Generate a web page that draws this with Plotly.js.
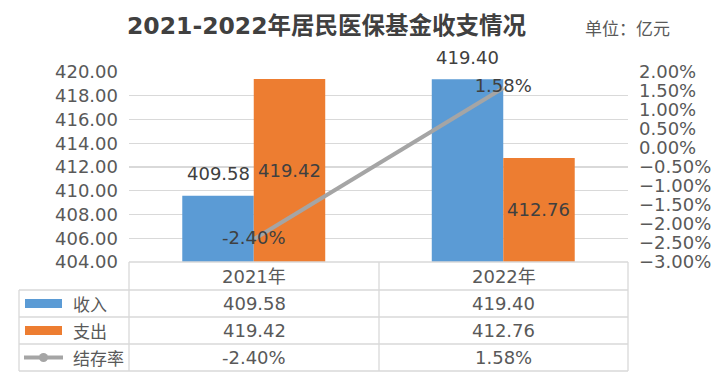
<!DOCTYPE html>
<html>
<head>
<meta charset="utf-8">
<script src="https://cdn.plot.ly/plotly-3.0.1.min.js"></script>
<style>html,body{margin:0;padding:0;background:#fff;}#chart{width:712px;height:389px;}</style>
</head>
<body>
<div id="chart"></div>
<script>
// ---- data ----
const categories = ['2021年', '2022年'];
const income = [409.58, 419.40];      // 收入
const expense = [419.42, 412.76];     // 支出
const balanceRate = [-0.024, 0.0158]; // 结存率
const seriesNames = ['收入', '支出', '结存率'];
const titleText = '2021-2022年居民医保基金收支情况';
const unitText = '单位：亿元';

// ---- styles / layout ----
const W = 712, H = 389;
const L = 129, R = 628, T = 72, B = 262;
const BLUE = '#5B9BD5', ORANGE = '#ED7D31', GREY = '#A5A5A5';
const FONT = 'DejaVu Sans, "Noto Sans CJK SC", sans-serif';
const TXT = '#595959', DARK = '#404040', GRID = '#D9D9D9';
const yMin = 404, yMax = 420;
const barOffset = 35.5;

const px = x => (x - L) / (R - L);
const py = y => (B - y) / (B - T);

const fmt2 = v => v.toFixed(2);
const fmtPct = v => (v * 100).toFixed(2) + '%';

const traces = [
  {type: 'bar', name: seriesNames[0], x: categories, y: income, marker: {color: BLUE}, hoverinfo: 'skip'},
  {type: 'bar', name: seriesNames[1], x: categories, y: expense, marker: {color: ORANGE}, hoverinfo: 'skip'},
  {type: 'scatter', name: seriesNames[2], x: categories, y: balanceRate, yaxis: 'y2',
   mode: 'lines+text', line: {color: GREY, width: 4},
   text: balanceRate.map(fmtPct), textposition: 'middle center',
   textfont: {family: FONT, size: 18, color: DARK}, cliponaxis: false, hoverinfo: 'skip'}
];

const annotations = [];
// title and unit
annotations.push({xref: 'paper', yref: 'paper', x: px(326.5), y: py(26), text: titleText, showarrow: false,
  xanchor: 'center', yanchor: 'middle', font: {family: FONT, size: 23.5, color: DARK, weight: 'bold'}});
annotations.push({xref: 'paper', yref: 'paper', x: px(583), y: py(28), text: unitText, showarrow: false,
  xanchor: 'left', yanchor: 'middle', font: {family: '"Noto Sans CJK SC", sans-serif', size: 17, color: TXT}});
// bar labels
categories.forEach((c, i) => {
  annotations.push({x: c, y: income[i], xref: 'x', yref: 'y', text: fmt2(income[i]), showarrow: false,
    xshift: -barOffset, yshift: 22, yanchor: 'middle', font: {family: FONT, size: 18, color: DARK}});
  annotations.push({x: c, y: (yMin + expense[i]) / 2, xref: 'x', yref: 'y', text: fmt2(expense[i]), showarrow: false,
    xshift: barOffset, yanchor: 'middle', font: {family: FONT, size: 18, color: DARK}});
});

// data table
const shapes = [];
const line = (x0, y0, x1, y1) => shapes.push({type: 'line', xref: 'paper', yref: 'paper',
  x0: px(x0), y0: py(y0), x1: px(x1), y1: py(y1), line: {color: GRID, width: 1.3}});
const rowY = [262, 290, 317, 344, 371];
const colX = [19, 129, 379, 628];
line(129, 262, 628, 262);
for (let k = 1; k < rowY.length; k++) line(19, rowY[k], 628, rowY[k]);
line(19, 290, 19, 371);
line(129, 262, 129, 371);
line(379, 262, 379, 371);
line(628, 262, 628, 371);

const cellFont = {family: FONT, size: 18, color: TXT};
const colCenter = [(129 + 379) / 2, (379 + 628) / 2];
const rowCenter = k => (rowY[k] + rowY[k + 1]) / 2;
categories.forEach((c, i) => {
  annotations.push({xref: 'paper', yref: 'paper', x: px(colCenter[i]), y: py(rowCenter(0)), text: c,
    showarrow: false, xanchor: 'center', yanchor: 'middle', font: cellFont});
  annotations.push({xref: 'paper', yref: 'paper', x: px(colCenter[i]), y: py(rowCenter(1)), text: fmt2(income[i]),
    showarrow: false, xanchor: 'center', yanchor: 'middle', font: cellFont});
  annotations.push({xref: 'paper', yref: 'paper', x: px(colCenter[i]), y: py(rowCenter(2)), text: fmt2(expense[i]),
    showarrow: false, xanchor: 'center', yanchor: 'middle', font: cellFont});
  annotations.push({xref: 'paper', yref: 'paper', x: px(colCenter[i]), y: py(rowCenter(3)), text: fmtPct(balanceRate[i]),
    showarrow: false, xanchor: 'center', yanchor: 'middle', font: cellFont});
});
// legend keys in table
seriesNames.forEach((n, k) => {
  const cy = rowCenter(k + 1);
  annotations.push({xref: 'paper', yref: 'paper', x: px(71), y: py(cy), text: n, showarrow: false,
    xanchor: 'left', yanchor: 'middle', font: {family: '"Noto Sans CJK SC", sans-serif', size: 17, color: TXT}});
});
[BLUE, ORANGE].forEach((col, k) => {
  const cy = rowCenter(k + 1);
  shapes.push({type: 'rect', xref: 'paper', yref: 'paper', x0: px(25), x1: px(62), y0: py(cy - 4.5), y1: py(cy + 4.5),
    fillcolor: col, line: {width: 0}});
});
{
  const cy = rowCenter(3);
  shapes.push({type: 'line', xref: 'paper', yref: 'paper', x0: px(24), x1: px(63), y0: py(cy), y1: py(cy),
    line: {color: GREY, width: 4}});
  shapes.push({type: 'circle', xref: 'paper', yref: 'paper', x0: px(39), x1: px(48), y0: py(cy - 4.5), y1: py(cy + 4.5),
    fillcolor: GREY, line: {width: 0}});
}

const layout = {
  width: W, height: H,
  margin: {l: L, r: W - R, t: T, b: H - B, pad: 0},
  paper_bgcolor: '#fff', plot_bgcolor: '#fff',
  showlegend: false,
  barmode: 'group', bargap: 0.427, bargroupgap: 0,
  font: {family: FONT, size: 18, color: TXT},
  xaxis: {type: 'category', showticklabels: false, showgrid: false, zeroline: false, showline: false, ticks: ''},
  yaxis: {range: [yMin, yMax], dtick: 2, tickformat: '.2f', showgrid: true, gridcolor: GRID, gridwidth: 1.3,
    zeroline: false, showline: false, ticks: '', ticklabelstandoff: 10,
    tickfont: {family: FONT, size: 18, color: TXT}},
  yaxis2: {overlaying: 'y', side: 'right', range: [-0.03, 0.02], dtick: 0.005, tickformat: '.2%',
    showgrid: false, zeroline: false, showline: false, ticks: '', ticklabelstandoff: 10,
    tickfont: {family: FONT, size: 18, color: TXT}},
  annotations: annotations,
  shapes: shapes
};

Plotly.newPlot('chart', traces, layout, {displayModeBar: false, staticPlot: true});
</script>
</body>
</html>
